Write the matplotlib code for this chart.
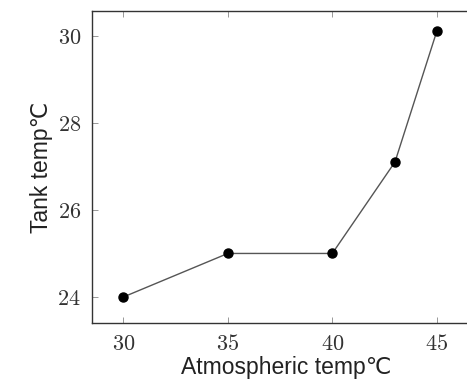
import matplotlib
matplotlib.use('Agg')
import matplotlib.pyplot as plt
from matplotlib.ticker import FuncFormatter

atm_temp = [30, 35, 40, 43, 45]
tank_temp = [24, 25, 25, 27.1, 30.1]
x_ticks = [30, 35, 40, 45]
y_ticks = [24, 26, 28, 30]

plt.rcParams['mathtext.fontset'] = 'cm'

fig = plt.figure(figsize=(4.67, 3.87), dpi=100)
ax = fig.add_axes([0.197, 0.165, 0.83, 0.807])

ax.plot(atm_temp, tank_temp, color='#555555', linewidth=1.0,
        marker='o', markersize=6.5, markerfacecolor='black', markeredgecolor='black')

ax.set_xlim(28.5, 47.05)
ax.set_ylim(23.4, 30.57)
ax.set_xticks(x_ticks)
ax.set_yticks(y_ticks)
fmt = FuncFormatter(lambda v, p: r'$%d$' % v)
ax.xaxis.set_major_formatter(fmt)
ax.yaxis.set_major_formatter(fmt)
ax.tick_params(direction='in', length=4, width=0.6, color='#888888',
               labelsize=16, labelcolor='#333333', top=True, right=True, pad=8)

for s in ax.spines.values():
    s.set_color('#333333')
    s.set_linewidth(1.0)

lab_font = dict(family=['Liberation Sans', 'DejaVu Sans'], size=16.5, color='#222222')
ax.set_xlabel('Atmospheric temp\u2103', labelpad=1, **lab_font)
ax.set_ylabel('Tank temp\u2103', labelpad=3, **lab_font)

fig.savefig('out.png', dpi=100)
